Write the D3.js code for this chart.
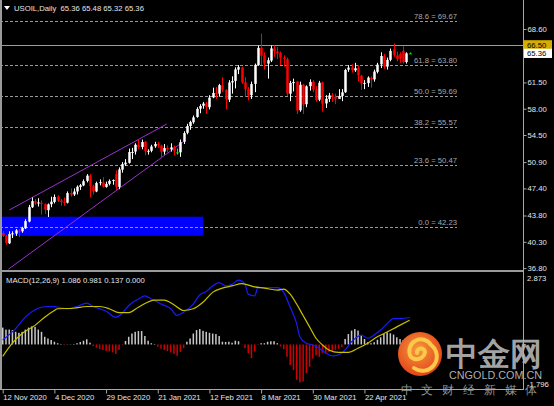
<!DOCTYPE html>
<html><head><meta charset="utf-8">
<script src="https://cdn.jsdelivr.net/npm/d3@7"></script>
<style>
html,body{margin:0;padding:0;background:#000;overflow:hidden}
svg{display:block}
text{font-family:"Liberation Sans",Arial,sans-serif}
</style>
</head><body>
<svg id="c" width="554" height="406"></svg>
<script>
// ---------------- DATA ----------------
const symbolTitle = "USOIL,Daily  65.36 65.48 65.32 65.36";
const macdTitle = "MACD(12,26,9) 1.086 0.981 0.137 0.000";
const tickLabels = ["12 Nov 2020","4 Dec 2020","29 Dec 2020","21 Jan 2021","12 Feb 2021","8 Mar 2021","30 Mar 2021","22 Apr 2021"];
const tickBars = [0,16,32,48,64,80,96,112];

const openP = [41.45,41.10,40.10,41.30,41.40,41.80,41.70,42.10,43.00,44.90,45.70,45.50,45.50,45.30,44.50,45.30,45.60,46.30,45.80,45.60,
45.50,46.80,46.60,47.00,47.60,47.80,48.40,49.10,47.70,47.00,48.10,48.20,47.60,48.00,48.40,49.30,47.60,49.90,50.60,50.80,
52.20,52.30,53.20,52.90,53.60,52.30,52.40,53.00,53.30,53.10,52.30,52.80,52.60,52.90,52.20,52.20,53.60,54.80,55.70,56.20,
56.90,58.00,58.40,58.70,58.20,59.50,60.10,60.00,61.10,60.50,59.20,61.50,61.70,63.20,63.50,61.50,60.60,59.80,61.30,63.80,
66.10,65.10,64.00,64.40,66.00,65.60,65.40,64.80,64.60,60.00,61.40,61.60,57.80,61.20,58.60,61.00,61.60,60.60,59.20,61.50,
58.70,59.30,59.80,59.60,59.30,59.70,60.20,63.20,63.50,63.10,63.40,62.40,61.40,61.40,62.10,61.90,62.90,63.90,65.00,63.60,
64.50,65.90,65.10,65.30,65.70,64.20,65.36];
const highP = [41.73,41.20,41.70,41.70,42.00,42.00,42.30,43.30,45.20,46.20,46.00,46.10,45.80,45.40,45.40,46.30,46.60,46.50,46.00,46.20,
47.00,47.40,47.40,47.80,48.00,48.60,49.30,49.30,47.90,48.30,48.60,48.90,48.30,48.60,48.60,49.80,50.20,50.90,51.30,52.70,
52.80,53.40,53.90,53.90,53.70,52.60,53.20,53.60,53.60,53.20,53.30,53.10,53.40,53.10,52.70,53.90,55.00,56.00,56.40,57.10,
58.20,58.60,58.90,58.90,59.80,60.80,60.90,61.30,62.20,60.60,61.80,62.30,63.50,63.80,63.60,62.20,60.90,61.60,64.00,66.40,
67.98,65.50,64.80,66.40,66.40,66.20,65.60,65.10,64.80,61.70,62.00,61.70,61.60,61.30,61.10,61.90,61.80,61.00,61.70,61.60,
59.80,60.10,60.10,60.00,60.60,60.60,63.30,63.80,63.90,64.10,63.80,62.50,61.80,62.30,62.30,63.20,64.10,65.50,65.30,64.80,
66.00,66.70,65.60,65.50,66.30,65.50,65.48];
const lowP = [40.94,39.90,40.00,40.80,41.10,40.90,41.50,42.00,42.90,44.80,45.20,45.00,43.90,44.00,43.60,44.90,45.40,45.60,45.10,45.10,
45.40,46.30,46.40,46.60,47.20,47.70,48.20,46.20,46.60,46.90,47.80,47.50,47.50,47.80,47.90,47.20,47.30,49.50,50.40,50.70,
51.30,51.90,52.60,52.60,51.80,51.90,52.20,52.80,52.80,51.40,51.90,52.20,52.30,51.80,51.90,51.60,53.30,54.60,55.20,56.00,
56.80,57.40,58.00,57.30,57.90,59.40,59.30,59.60,60.20,57.90,58.90,60.00,60.70,62.60,61.30,59.60,59.10,59.30,60.20,63.70,
63.80,63.20,62.00,64.20,64.90,64.60,63.80,63.60,59.70,59.00,60.30,57.30,57.60,57.30,58.20,60.40,60.20,58.90,59.00,57.60,
58.10,58.90,58.90,58.60,59.30,59.00,60.10,62.90,62.80,62.90,61.60,60.50,60.60,60.90,60.80,61.60,62.70,63.40,63.30,63.20,
64.30,64.90,64.30,64.10,64.00,64.00,65.32];
const closeP = [41.12,40.13,41.34,41.43,41.82,41.74,42.15,43.06,44.91,45.71,45.50,45.53,45.34,44.55,45.28,45.64,46.26,45.76,45.60,45.52,
46.78,46.57,46.99,47.62,47.82,48.36,49.10,47.74,47.02,48.12,48.23,47.62,48.00,48.40,48.52,47.62,49.93,50.63,50.83,52.24,
52.25,53.21,52.91,53.57,52.36,52.40,52.98,53.31,53.13,52.27,52.77,52.61,52.85,52.34,52.20,53.55,54.76,55.69,56.23,56.85,
57.97,58.36,58.68,58.24,59.47,60.10,60.05,61.14,60.52,59.24,61.49,61.67,63.22,63.53,61.50,60.64,59.75,61.28,63.83,66.09,
65.05,64.01,64.44,66.02,65.61,65.39,64.80,64.60,60.00,61.42,61.55,57.76,61.18,58.56,60.97,61.56,60.55,59.16,61.45,58.65,
59.33,59.77,59.60,59.32,59.70,60.18,63.15,63.46,63.13,63.38,62.44,61.35,61.43,62.14,61.91,62.94,63.86,65.01,63.58,64.49,
65.69,65.10,64.60,64.70,64.20,65.36,65.36];

const priceTicks = [68.60,61.50,58.00,54.50,50.90,47.40,43.80,40.30,36.80];
const fibRatios = ["78.6","61.8","50.0","38.2","23.6","0.0"];
const fibPrices = [69.67,63.80,59.69,55.57,50.47,42.23];
const resistance = 66.50;
const lastPrice = 65.36;

const zoneBars = [-3, 62];
const zonePrices = [41.10, 43.64];
const channelUpper = [[2.04,44.53],[50.8,55.97]];
const channelLower = [[1.73,36.65],[55.9,53.61]];

const macdBars = [0,4,7,10,12,14,16,18,20,23,26,28,30,32,35,37,39,42,44,46,49,52,54,56,59,61,63,65,67,69,71,73,75,76,78,79,82,85,87,89,91,92,94,96,98,100,102,104,106,108,111,113,115,117,119,121,123,126];
const macdVals = [0.18,0.64,1.10,1.40,1.50,1.53,1.53,1.48,1.44,1.53,1.67,1.53,1.44,1.34,1.10,1.26,1.57,1.83,1.96,1.83,1.63,1.44,1.17,1.30,1.63,2.00,2.13,2.36,2.49,2.36,2.43,2.59,2.43,2.03,1.96,2.29,2.29,2.29,2.10,1.50,0.84,0.31,0.05,-0.02,-0.15,-0.35,-0.46,-0.42,-0.22,0.11,0.38,0.25,0.38,0.58,0.84,1.04,1.04,1.086];
const signalBars = [0,3,6,10,13,16,17,22,26,30,33,36,39,42,47,50,53,56,59,62,65,68,71,74,78,81,85,87,89,91,93,95,97,99,101,104,107,110,113,116,119,122,126];
const signalVals = [-0.48,0.05,0.44,0.77,1.10,1.37,1.44,1.46,1.53,1.53,1.44,1.28,1.28,1.50,1.79,1.79,1.60,1.37,1.44,1.70,2.10,2.27,2.36,2.45,2.32,2.27,2.19,2.23,2.03,1.63,1.17,0.71,0.25,-0.02,-0.22,-0.32,-0.32,-0.15,0.05,0.31,0.50,0.71,0.981];
const histVals = [0.68,0.60,0.60,0.58,0.51,0.47,0.51,0.60,0.68,0.73,0.71,0.60,0.51,0.31,0.24,0.18,0.11,0.05,0.02,-0.03,
0.01,0.01,0.02,0.05,0.10,0.15,0.21,0.07,-0.06,-0.13,-0.18,-0.22,-0.26,-0.28,-0.32,-0.38,-0.22,-0.02,0.14,0.31,
0.44,0.51,0.54,0.54,0.34,0.15,0.05,0.02,-0.09,-0.17,-0.22,-0.27,-0.32,-0.38,-0.46,-0.30,-0.14,0.11,0.24,0.44,
0.58,0.62,0.55,0.51,0.47,0.44,0.42,0.34,0.11,0.10,0.11,0.07,0.15,0.13,-0.01,-0.15,-0.35,-0.55,-0.28,-0.02,
0.05,0.05,0.11,0.13,0.13,0.05,-0.08,-0.19,-0.50,-0.83,-1.03,-1.43,-1.53,-1.49,-1.16,-0.90,-0.57,-0.44,-0.50,-0.34,
-0.34,-0.30,-0.26,-0.21,-0.17,-0.11,0.22,0.42,0.56,0.62,0.56,0.36,0.22,0.09,0.05,0.09,0.19,0.29,0.42,0.49,
0.45,0.40,0.29,0.22,0.18,0.15,0.137];
const macdMax = 2.873, macdMin = -1.796;

// ---------------- LAYOUT ----------------
const svg = d3.select("#c");
const L = 2, R = 523, mainB = 270, macdT = 273.2, macdB = 389;
const FONT = 7.7;
const AX = "#a8a8a8", TXT = "#e6e6e6";

const x = d3.scaleLinear().domain([0, 126]).range([2.7, 2.7 + 3.23 * 126]);
const y = d3.scaleLinear().domain([36.552, 72.456]).range([mainB, 0]);
const ym = d3.scaleLinear().domain([macdMin, macdMax]).range([macdB, macdT]);

svg.append("rect").attr("width", 554).attr("height", 406).attr("fill", "#000");

const defs = svg.append("defs");
defs.append("clipPath").attr("id", "cm").append("rect").attr("x", L).attr("y", 0).attr("width", R - L).attr("height", mainB);
defs.append("clipPath").attr("id", "cd").append("rect").attr("x", L).attr("y", 272).attr("width", R - L).attr("height", macdB - 272);

// ---------- main panel ----------
const gm = svg.append("g").attr("clip-path", "url(#cm)");

gm.append("rect")
  .attr("x", x(zoneBars[0])).attr("width", x(zoneBars[1]) - x(zoneBars[0]))
  .attr("y", y(zonePrices[1])).attr("height", y(zonePrices[0]) - y(zonePrices[1]))
  .attr("fill", "#0000ff");

const fibEnd = 457;
fibPrices.forEach((p, k) => {
  gm.append("line").attr("x1", 0).attr("x2", fibEnd)
    .attr("y1", Math.round(y(p)) + 0.5).attr("y2", Math.round(y(p)) + 0.5)
    .attr("stroke", "#9a9a9a").attr("stroke-width", 1).attr("stroke-dasharray", "3,2");
  gm.append("text").attr("x", fibEnd).attr("y", y(p) - 2)
    .attr("text-anchor", "end").attr("font-size", FONT).attr("fill", "#a8a8a8")
    .text(fibRatios[k] + " = " + p.toFixed(2));
});

gm.append("line").attr("x1", 0).attr("x2", R)
  .attr("y1", Math.round(y(resistance)) + 0.5).attr("y2", Math.round(y(resistance)) + 0.5)
  .attr("stroke", "#c9a400").attr("stroke-width", 1);

[channelUpper, channelLower].forEach(c => {
  gm.append("line")
    .attr("x1", x(c[0][0])).attr("y1", y(c[0][1]))
    .attr("x2", x(c[1][0])).attr("y2", y(c[1][1]))
    .attr("stroke", "#9932cc").attr("stroke-width", 1);
});

const bars = closeP.map((c, i) => ({ i, o: openP[i], h: highP[i], l: lowP[i], c }));
const candleColor = d => d.c > d.o ? "#ffffff" : (d.c < d.o ? "#ff0000" : "#00ff00");
gm.selectAll("line.wick").data(bars).join("line").attr("class", "wick")
  .attr("x1", d => Math.round(x(d.i)) + 0.5).attr("x2", d => Math.round(x(d.i)) + 0.5)
  .attr("y1", d => y(d.h)).attr("y2", d => y(d.l))
  .attr("stroke", candleColor).attr("stroke-width", 1);
gm.selectAll("rect.body").data(bars).join("rect").attr("class", "body")
  .attr("x", d => Math.round(x(d.i)) + 0.5 - 1.25).attr("width", 2.5)
  .attr("y", d => y(Math.max(d.o, d.c)))
  .attr("height", d => Math.max(1, Math.abs(y(d.o) - y(d.c))))
  .attr("fill", candleColor);

// title
svg.append("path").attr("d", "M4,6 L10,6 L7,10 Z").attr("fill", "#fff");
svg.append("text").attr("x", 14).attr("y", 10.8).attr("font-size", FONT).attr("fill", TXT)
  .attr("xml:space", "preserve").style("white-space", "pre").text(symbolTitle);

// ---------- MACD panel ----------
const gd = svg.append("g").attr("clip-path", "url(#cd)");
gd.selectAll("rect.h").data(histVals).join("rect").attr("class", "h")
  .attr("x", (d, i) => x(i) - 0.7).attr("width", 1.5)
  .attr("y", d => Math.min(ym(d), ym(0))).attr("height", d => Math.abs(ym(d) - ym(0)))
  .attr("fill", d => d >= 0 ? "#c8c8c8" : "#d00000");

const lineGen = d3.line().x(d => x(d[0])).y(d => ym(d[1])).curve(d3.curveMonotoneX);
gd.append("path").datum(macdBars.map((b, k) => [b, macdVals[k]])).attr("d", lineGen)
  .attr("fill", "none").attr("stroke", "#1a1aff").attr("stroke-width", 1.2);
gd.append("path").datum(signalBars.map((b, k) => [b, signalVals[k]])).attr("d", lineGen)
  .attr("fill", "none").attr("stroke", "#c8c000").attr("stroke-width", 1.2);

svg.append("text").attr("x", 6).attr("y", 283).attr("font-size", FONT).attr("fill", TXT).text(macdTitle);

// ---------- frame ----------
svg.append("rect").attr("x", 0).attr("y", 0).attr("width", 2).attr("height", macdB).attr("fill", "#9a9a9a");
svg.append("rect").attr("x", 0).attr("y", 270).attr("width", R + 1).attr("height", 2).attr("fill", "#9a9a9a");
svg.append("line").attr("x1", 0).attr("x2", R + 1).attr("y1", macdB + 0.5).attr("y2", macdB + 0.5).attr("stroke", AX);
svg.append("line").attr("x1", R + 0.5).attr("x2", R + 0.5).attr("y1", 0).attr("y2", macdB + 1).attr("stroke", AX);

// right price axis
const ya = svg.append("g").attr("transform", `translate(${R + 0.5},0)`)
  .call(d3.axisRight(y).tickValues(priceTicks).tickFormat(d3.format(".2f")).tickSize(3).tickPadding(1));
ya.select(".domain").remove();
ya.selectAll(".tick line").attr("stroke", AX);
ya.selectAll(".tick text").attr("font-size", FONT).attr("fill", TXT).attr("font-family", '"Liberation Sans",Arial,sans-serif');

// price labels
const lbl = (p, bg, fg) => {
  const yy = y(p);
  svg.append("rect").attr("x", R + 1).attr("y", yy - 4.6).attr("width", 28).attr("height", 9.2).attr("fill", bg);
  svg.append("text").attr("x", R + 4).attr("y", yy + 2.8).attr("font-size", FONT).attr("fill", fg).text(p.toFixed(2));
};
lbl(resistance, "#d6ac00", "#000");
lbl(lastPrice, "#ffffff", "#000");

// MACD axis labels
[macdMax, macdMin].forEach((v, k) => {
  svg.append("text").attr("x", R + 4).attr("y", k === 0 ? ym(v) + 7.6 : ym(v) - 2)
    .attr("font-size", FONT).attr("fill", TXT).text(v.toFixed(3));
});

// bottom date axis
const xa = svg.append("g").attr("transform", `translate(0,${macdB + 0.5})`)
  .call(d3.axisBottom(x).tickValues(tickBars).tickFormat((d, i) => tickLabels[i]).tickSize(4).tickPadding(2));
xa.select(".domain").remove();
xa.selectAll(".tick line").attr("stroke", AX);
xa.selectAll(".tick text").attr("text-anchor", "start").attr("x", 0).attr("dy", "0.55em")
  .attr("font-size", FONT).attr("fill", TXT).attr("font-family", '"Liberation Sans",Arial,sans-serif');

// ---------- watermark ----------
const wm = svg.append("g");
const grad = defs.append("radialGradient").attr("id", "og").attr("cx", "45%").attr("cy", "40%").attr("r", "60%");
grad.append("stop").attr("offset", "0%").attr("stop-color", "#f79a3c");
grad.append("stop").attr("offset", "100%").attr("stop-color", "#e2441a");
wm.append("circle").attr("cx", 420).attr("cy", 354).attr("r", 22).attr("fill", "url(#og)");
wm.append("path")
  .attr("d", "M417,353 A4,4 0 1 1 425,352 A8.5,8.5 0 0 1 411,357 A11,11 0 0 1 431,345 A13,13 0 0 1 414,368")
  .attr("fill", "none").attr("stroke", "#fbc94a").attr("stroke-width", 4).attr("stroke-linecap", "round");
wm.append("text").attr("x", 446).attr("y", 365).attr("font-size", 32).attr("font-weight", "bold")
  .attr("font-family", '"Noto Sans CJK SC",sans-serif').attr("fill", "#b4b4b4").attr("fill-opacity", 0.92).text("中金网");
wm.append("text").attr("x", 449).attr("y", 378.5).attr("font-size", 10.8).attr("fill", "#c4c4c4").attr("fill-opacity", 0.9)
  .attr("font-family", '"Liberation Sans",Arial,sans-serif').text("CNGOLD.COM.CN");
"中文财经新媒体".split("").forEach((ch, k) => {
  wm.append("text").attr("x", 400.5 + k * 20.8).attr("y", 393.5).attr("font-size", 12)
    .attr("font-family", '"Noto Sans CJK SC",sans-serif').attr("fill", "#b0b0b0").attr("fill-opacity", 0.85).text(ch);
});
</script>
</body></html>
